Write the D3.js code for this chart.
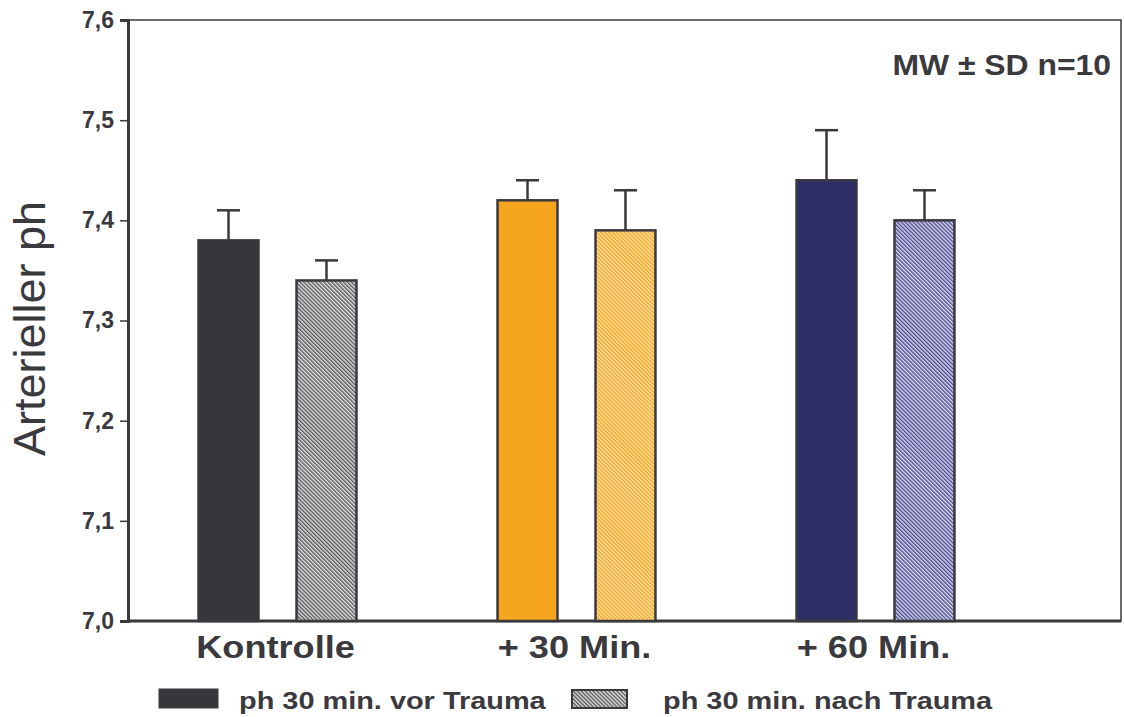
<!DOCTYPE html>
<html>
<head>
<meta charset="utf-8">
<script src="https://cdn.jsdelivr.net/npm/d3@7"></script>
<style>
  body { margin: 0; background: #fff; }
  text { font-family: "Liberation Sans", Arial, sans-serif; fill: #3a393e; }
</style>
</head>
<body>
<div id="chart"></div>
<script>
// data
const groups = ["Kontrolle", "+ 30 Min.", "+ 60 Min."];
const subgroups = ["vor", "nach"];
const vorMean = [7.38, 7.42, 7.44];
const vorSD = [0.03, 0.02, 0.05];
const nachMean = [7.34, 7.39, 7.40];
const nachSD = [0.02, 0.04, 0.03];
const yTicks = [7.0, 7.1, 7.2, 7.3, 7.4, 7.5, 7.6];
const legendLabels = ["ph 30 min. vor Trauma", "ph 30 min. nach Trauma"];

const solidColors = ["#37363b", "#f5a41d", "#2f2e69"];
const hatchBg = ["#e2e2e2", "#fde3ad", "#dadaf0"];
const hatchFg = ["#58585c", "#f5a41d", "#4c4c8e"];
const ink = "#3a393e";

const W = 1124, H = 717;
const margin = {top: 20, right: 3, bottom: 96, left: 128};
const width = W - margin.left - margin.right,
      height = H - margin.top - margin.bottom;

const svg = d3.select("#chart").append("svg")
    .attr("width", W)
    .attr("height", H);

// hatch patterns
const defs = svg.append("defs");
hatchBg.forEach((bg, i) => {
  const p = defs.append("pattern")
      .attr("id", "hatch" + i)
      .attr("patternUnits", "userSpaceOnUse")
      .attr("width", 2.8).attr("height", 2.8)
      .attr("patternTransform", "rotate(-45)");
  p.append("rect").attr("width", 2.8).attr("height", 2.8).attr("fill", bg);
  p.append("rect").attr("width", 1.4).attr("height", 2.8).attr("fill", hatchFg[i]);
});

const g = svg.append("g")
    .attr("transform", `translate(${margin.left},${margin.top})`);

const y = d3.scaleLinear().domain([7.0, 7.6]).range([height, 0]);
const x = d3.scaleBand().domain(groups).range([0, 897]).padding(0);
const xSub = d3.scaleBand().domain(subgroups).range([0, x.bandwidth()])
    .paddingInner(0.388).paddingOuter(0.72);

// frame
g.append("rect")
  .attr("x", 0).attr("y", 0)
  .attr("width", width).attr("height", height)
  .attr("fill", "none").attr("stroke", ink).attr("stroke-width", 1.5);

// y axis
const yAxis = g.append("g")
  .call(d3.axisLeft(y).tickValues(yTicks).tickSize(8)
        .tickFormat(d => d3.format(".1f")(d).replace(".", ",")));
yAxis.select(".domain").attr("stroke", ink).attr("stroke-width", 3);
yAxis.selectAll(".tick line").attr("stroke", ink).attr("stroke-width", 1.5);
yAxis.selectAll(".tick text")
  .attr("x", -14)
  .style("font-size", "23px").style("font-weight", "bold")
  .attr("fill", ink);

// bottom axis line
g.append("line")
  .attr("x1", 0).attr("x2", width)
  .attr("y1", height).attr("y2", height)
  .attr("stroke", ink).attr("stroke-width", 3);

// y title
svg.append("text")
  .attr("transform", `translate(45,${margin.top + height / 2 + 8}) rotate(-90)`)
  .attr("text-anchor", "middle")
  .style("font-size", "45px")
  .text("Arterieller ph");

// bars
const rows = groups.map((grp, i) => ({
  group: grp, idx: i,
  bars: [
    {key: "vor", mean: vorMean[i], sd: vorSD[i], fill: solidColors[i]},
    {key: "nach", mean: nachMean[i], sd: nachSD[i], fill: `url(#hatch${i})`}
  ]
}));

const grpSel = g.append("g").selectAll("g")
  .data(rows)
  .join("g")
  .attr("transform", d => `translate(${x(d.group)},0)`);

// error bars behind bars
grpSel.selectAll(".err")
  .data(d => d.bars)
  .join("g")
  .attr("class", "err")
  .each(function(d) {
    const cx = xSub(d.key) + xSub.bandwidth() / 2;
    const sel = d3.select(this);
    sel.append("line")
      .attr("x1", cx).attr("x2", cx)
      .attr("y1", y(d.mean)).attr("y2", y(d.mean + d.sd))
      .attr("stroke", ink).attr("stroke-width", 2.5);
    sel.append("line")
      .attr("x1", cx - 11.5).attr("x2", cx + 11.5)
      .attr("y1", y(d.mean + d.sd)).attr("y2", y(d.mean + d.sd))
      .attr("stroke", ink).attr("stroke-width", 2.5);
  });

grpSel.selectAll("rect")
  .data(d => d.bars)
  .join("rect")
  .attr("x", d => xSub(d.key))
  .attr("y", d => y(d.mean))
  .attr("width", xSub.bandwidth())
  .attr("height", d => height - y(d.mean))
  .attr("fill", d => d.fill)
  .attr("stroke", ink).attr("stroke-width", 2.5);

// group labels (text in the source is drawn a bit wide)
g.append("g").selectAll("text")
  .data(groups)
  .join("text")
  .attr("transform", d => `translate(${x(d) + x.bandwidth() / 2 - 2},${height + 37}) scale(1.13,1)`)
  .attr("text-anchor", "middle")
  .style("font-size", "32px").style("font-weight", "bold")
  .text(d => d);

// annotation
svg.append("text")
  .attr("transform", "translate(1111,75) scale(1.1,1)")
  .attr("text-anchor", "end")
  .style("font-size", "29px").style("font-weight", "bold")
  .text("MW \u00b1 SD n=10");

// legend
const legend = svg.append("g");
legend.append("rect")
  .attr("x", 159).attr("y", 689).attr("width", 59).attr("height", 19)
  .attr("fill", solidColors[0]).attr("stroke", ink).attr("stroke-width", 1);
legend.append("text")
  .attr("transform", "translate(239,709) scale(1.23,1)")
  .style("font-size", "23.5px").style("font-weight", "bold")
  .text(legendLabels[0]);
legend.append("rect")
  .attr("x", 572).attr("y", 690).attr("width", 55).attr("height", 18)
  .attr("fill", "url(#hatch0)").attr("stroke", ink).attr("stroke-width", 2);
legend.append("text")
  .attr("transform", "translate(663,709) scale(1.23,1)")
  .style("font-size", "23.5px").style("font-weight", "bold")
  .text(legendLabels[1]);
</script>
</body>
</html>
